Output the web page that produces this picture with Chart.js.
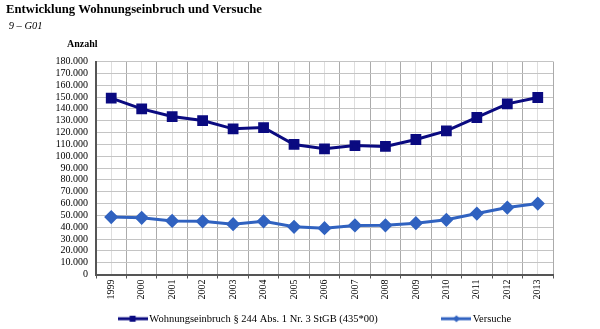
<!DOCTYPE html>
<html>
<head>
<meta charset="utf-8">
<script src="https://cdn.jsdelivr.net/npm/chart.js@4.4.1/dist/chart.umd.min.js"></script>
<style>
    html, body { margin: 0; padding: 0; background: #fff; }
    #wrap { width: 600px; height: 329px; position: relative; }
</style>
</head>
<body>
<div id="wrap"><canvas id="chart"></canvas></div>
<script>
// ---- data ----
const years = ['1999', '2000', '2001', '2002', '2003', '2004', '2005', '2006',
               '2007', '2008', '2009', '2010', '2011', '2012', '2013'];
const einbruch = [149000, 140000, 133500, 130100, 123100, 124200, 109900, 106200,
                  109000, 108200, 114100, 121400, 132700, 144200, 149600];
const versuche = [48500, 47900, 45300, 45000, 42500, 45000, 40300, 39100,
                  41500, 41600, 43400, 46200, 51500, 56600, 60000];
const yMax = 180000;
const yStep = 10000;
const seriesLabels = ['Wohnungseinbruch § 244 Abs. 1 Nr. 3 StGB (435*00)', 'Versuche'];

const SERIF = "'Liberation Serif', 'Times New Roman', serif";
const NAVY = '#0a0a80';
const BLUE = '#3062c0';

// German thousands separator
function fmt(v) {
    return String(v).replace(/\B(?=(\d{3})+(?!\d))/g, '.');
}

// little legend icon: line with a marker in the middle
function legendIcon(color, shape) {
    const c = document.createElement('canvas');
    c.width = 30;
    c.height = 10;
    const g = c.getContext('2d');
    g.strokeStyle = color;
    g.lineWidth = 3;
    g.beginPath();
    g.moveTo(0, 5);
    g.lineTo(30, 5);
    g.stroke();
    g.fillStyle = color;
    if (shape === 'square') {
        g.fillRect(11.5, 2, 6, 6);
    } else {
        g.beginPath();
        g.moveTo(15, 1.5);
        g.lineTo(18.5, 5);
        g.lineTo(15, 8.5);
        g.lineTo(11.5, 5);
        g.closePath();
        g.fill();
    }
    return c;
}
const icons = [legendIcon(NAVY, 'square'), legendIcon(BLUE, 'diamond')];
const labelPad = ['\u00a0'.repeat(25), '\u00a0'.repeat(6)];

// "Anzahl" above the y axis
const unitLabel = {
    id: 'unitLabel',
    afterDraw(chart) {
        const ctx = chart.ctx;
        const area = chart.chartArea;
        ctx.save();
        ctx.font = 'bold 10px ' + SERIF;
        ctx.fillStyle = '#000';
        ctx.textBaseline = 'middle';
        ctx.fillText('Anzahl', area.left - 29, area.top - 17);
        ctx.restore();
    }
};

const ctx = document.getElementById('chart').getContext('2d');
new Chart(ctx, {
    type: 'line',
    data: {
        labels: years,
        datasets: [
            {
                label: seriesLabels[0],
                data: einbruch,
                borderColor: NAVY,
                backgroundColor: NAVY,
                borderWidth: 3,
                pointStyle: 'rect',
                pointRadius: 5.5,
                tension: 0
            },
            {
                label: seriesLabels[1],
                data: versuche,
                borderColor: BLUE,
                backgroundColor: BLUE,
                borderWidth: 3,
                pointStyle: 'rectRot',
                pointRadius: 5,
                tension: 0
            }
        ]
    },
    options: {
        responsive: true,
        maintainAspectRatio: false,
        animation: false,
        layout: { padding: { left: 6, right: 47, top: 0, bottom: -5 } },
        plugins: {
            title: {
                display: true,
                text: 'Entwicklung Wohnungseinbruch und Versuche',
                align: 'start',
                color: '#000',
                font: { family: SERIF, size: 12.7, weight: 'bold', lineHeight: 1.1 },
                padding: { top: 3, bottom: 0 }
            },
            subtitle: {
                display: true,
                text: '\u00a09 – G01',
                align: 'start',
                color: '#000',
                font: { family: SERIF, size: 10.5, style: 'italic', lineHeight: 1.1 },
                padding: { top: 3, bottom: 30 }
            },
            legend: {
                position: 'bottom',
                fullSize: false,
                labels: {
                    color: '#000',
                    font: { family: SERIF, size: 10.5 },
                    usePointStyle: true,
                    pointStyleWidth: 22,
                    padding: 2,
                    generateLabels(chart) {
                        const items = Chart.defaults.plugins.legend.labels.generateLabels(chart);
                        items.forEach((it, i) => {
                            it.pointStyle = icons[i];
                            it.text = it.text + labelPad[i];
                        });
                        return items;
                    }
                }
            },
            tooltip: { enabled: false }
        },
        scales: {
            x: {
                type: 'category',
                offset: true,
                afterFit(s) { s.height = 37; },
                grid: {
                    offset: true,
                    color: '#ababab',
                    tickColor: '#555',
                    tickLength: 4
                },
                border: { color: '#555', width: 2 },
                ticks: {
                    color: '#000',
                    font: { family: SERIF, size: 10 },
                    minRotation: 90,
                    maxRotation: 90,
                    padding: 1,
                    autoSkip: false
                }
            },
            x2: {
                type: 'category',
                position: 'bottom',
                offset: true,
                afterFit(s) { s.height = 0; },
                grid: { offset: false, color: '#dedede', drawTicks: false },
                border: { display: false },
                ticks: { display: false }
            },
            y: {
                min: 0,
                max: yMax,
                afterFit(s) { s.width = 90; },
                grid: { color: '#c4c4c4', drawTicks: false },
                border: { color: '#555', width: 2 },
                ticks: {
                    stepSize: yStep,
                    autoSkip: false,
                    color: '#000',
                    padding: 8,
                    font: { family: SERIF, size: 10 },
                    callback: v => fmt(v)
                }
            }
        }
    },
    plugins: [unitLabel]
});
</script>
</body>
</html>
